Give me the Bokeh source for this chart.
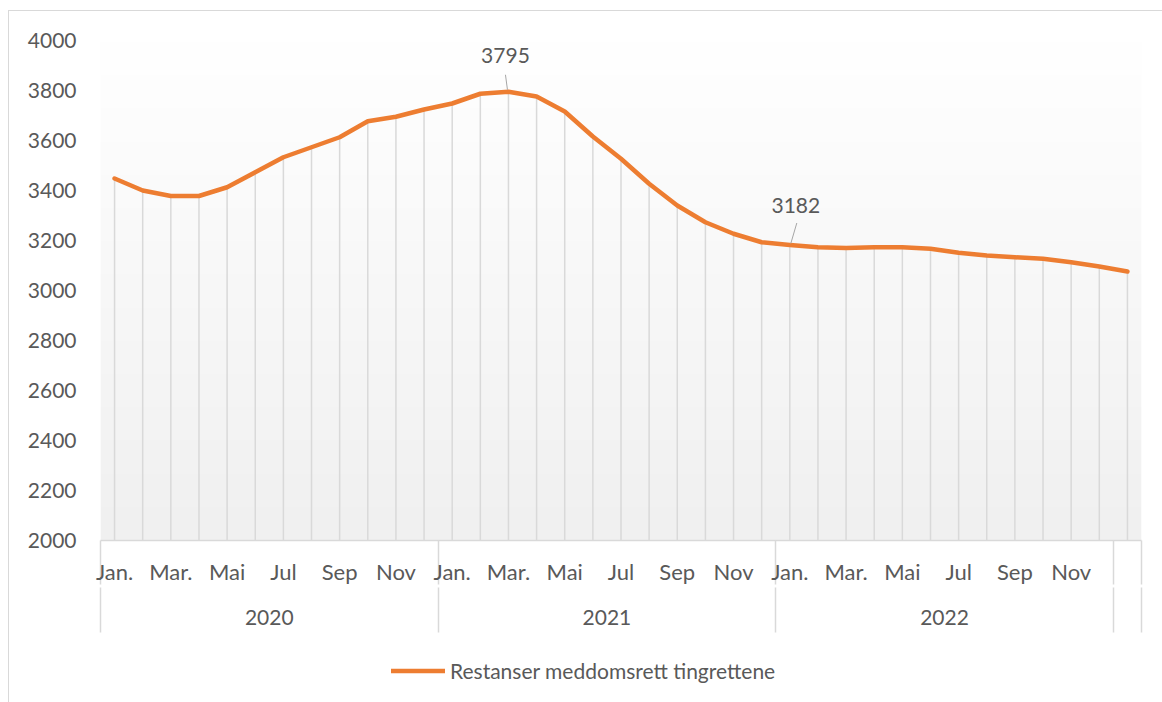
import numpy as np
from bokeh.plotting import figure
from bokeh.layouts import column
from bokeh.models import Range1d, FixedTicker, LinearAxis, Legend, LegendItem
from bokeh.core.properties import value
from bokeh.embed import file_html
from bokeh.resources import INLINE

# ---------------- data ----------------
years = ["2020", "2021", "2022"]
months = ["Jan.", "Feb.", "Mar.", "Apr.", "Mai", "Jun", "Jul", "Aug", "Sep", "Okt", "Nov", "Des"]
shown_months = ["Jan.", "Mar.", "Mai", "Jul", "Sep", "Nov"]
values_2020 = [3448, 3400, 3378, 3378, 3413, 3473, 3533, 3573, 3613, 3677, 3695, 3724]
values_2021 = [3748, 3787, 3795, 3776, 3716, 3616, 3527, 3427, 3340, 3273, 3227, 3193]
values_2022 = [3182, 3173, 3170, 3173, 3173, 3167, 3151, 3140, 3133, 3127, 3113, 3096]
values_2023 = [3076]
series_name = "Restanser meddomsrett tingrettene"
labelled_points = [("2021", "Mar."), ("2022", "Jan.")]
y_ticks = [2000, 2200, 2400, 2600, 2800, 3000, 3200, 3400, 3600, 3800, 4000]

# ---------------- derived ----------------
vals = values_2020 + values_2021 + values_2022 + values_2023
n = len(vals)
xs = list(range(n))
y_min, y_max = y_ticks[0], y_ticks[-1]
x_start, x_end = -0.5, n - 0.5

month_ticks = [yi * 12 + months.index(m) for yi in range(len(years)) for m in shown_months]
month_overrides = {t: months[t % 12] for t in month_ticks}
year_ticks = [yi * 12 + 5.5 for yi in range(len(years))]
year_overrides = {t: y for t, y in zip(year_ticks, years)}
boundaries = [yi * 12 - 0.5 for yi in range(len(years) + 1)] + [x_end]

FONT = "Lato"
TXT = "#595959"
GRID = "#d9d9d9"
ORANGE = "#ED7D31"

FW, FH = 1041, 500
p = figure(frame_width=FW, frame_height=FH, output_backend="svg", toolbar_location=None,
           x_range=Range1d(x_start, x_end), y_range=Range1d(y_min, y_max),
           min_border_left=100, min_border_right=21, min_border_top=40, min_border_bottom=105)
p.styles = {
    "background": "linear-gradient(#d9d9d9, #d9d9d9) 8px 10px / 1px 100% no-repeat, "
                  "linear-gradient(#d9d9d9, #d9d9d9) 8px 10px / 100% 1px no-repeat, white",
}
p.outline_line_color = None
p.xgrid.visible = False
p.ygrid.visible = False
p.background_fill_color = "white"
p.border_fill_color = None

# gradient plot-area background
ng = 256
img = np.empty((ng, 1), dtype=np.uint32)
view = img.view(dtype=np.uint8).reshape((ng, 1, 4))
shade = np.linspace(240, 255, ng)
view[:, 0, 0] = shade.astype(np.uint8)
view[:, 0, 1] = shade.astype(np.uint8)
view[:, 0, 2] = shade.astype(np.uint8)
view[:, 0, 3] = 255
p.image_rgba(image=[img], x=x_start, y=y_min, dw=x_end - x_start, dh=y_max - y_min)

# drop lines
p.segment(x0=xs, y0=[y_min] * n, x1=xs, y1=vals, line_color=GRID, line_width=1.5)

# series line
line_r = p.line(xs, vals, line_color=ORANGE, line_width=4.5, line_join="round", line_cap="round")

# data labels with leader lines
px_x = FW / (x_end - x_start)
px_y = FH / (y_max - y_min)
lab_idx = [years.index(y) * 12 + months.index(m) for y, m in labelled_points]
lab_vals = [vals[i] for i in lab_idx]
lab_dx = [-3, 6]
lab_dy = [-36, -40]
lead = [((-3, 17), (-1, 2)), ((7, 22), (1, 1.5))]
for i, v, dx, dy, ((ax, ay), (bx, by)) in zip(lab_idx, lab_vals, lab_dx, lab_dy, lead):
    p.text(x=[i], y=[v], text=[str(v)], x_offset=dx, y_offset=dy,
           text_font=value(FONT), text_font_size="21px", text_color=TXT,
           text_align="center", text_baseline="middle")
    p.segment(x0=[i + ax / px_x], y0=[v + ay / px_y], x1=[i + bx / px_x], y1=[v + by / px_y],
              line_color="#a6a6a6", line_width=1)

# y axis
p.yaxis.ticker = FixedTicker(ticks=y_ticks)
p.yaxis.axis_line_color = None
p.yaxis.major_tick_line_color = None
p.yaxis.minor_tick_line_color = None
p.yaxis.major_tick_out = 0
p.yaxis.minor_tick_out = 0
p.yaxis.major_label_standoff = 24
p.yaxis.major_label_text_font = FONT
p.yaxis.major_label_text_font_size = "21px"
p.yaxis.major_label_text_color = TXT

# month axis (minor ticks act as group separators)
xa = p.xaxis[0]
xa.ticker = FixedTicker(ticks=month_ticks, minor_ticks=boundaries)
xa.major_label_overrides = month_overrides
xa.axis_line_color = GRID
xa.axis_line_width = 1.5
xa.major_tick_line_color = None
xa.major_tick_out = 0
xa.major_tick_in = 0
xa.minor_tick_line_color = GRID
xa.minor_tick_line_width = 1.5
xa.minor_tick_in = 0
xa.minor_tick_out = 44
xa.major_label_standoff = -27
xa.major_label_text_font = FONT
xa.major_label_text_font_size = "22px"
xa.major_label_text_color = TXT

# year axis
ya = LinearAxis(ticker=FixedTicker(ticks=year_ticks, minor_ticks=boundaries),
                major_label_overrides=year_overrides)
ya.axis_line_color = None
ya.major_tick_line_color = None
ya.major_tick_out = 0
ya.major_tick_in = 0
ya.minor_tick_line_color = GRID
ya.minor_tick_line_width = 1.5
ya.minor_tick_in = 0
ya.minor_tick_out = 45
ya.major_label_standoff = -23
ya.major_label_text_font = FONT
ya.major_label_text_font_size = "21px"
ya.major_label_text_color = TXT
p.add_layout(ya, "below")

# legend strip below the chart (its frame is aligned with the main frame by the column)
LEG_H = 702 - (40 + FH + 105)
p2 = figure(width=1162, height=LEG_H, output_backend="svg", toolbar_location=None,
            x_axis_type=None, y_axis_type=None, x_range=Range1d(0, 1), y_range=Range1d(0, 1),
            min_border=0)
p2.styles = {
    "background": "linear-gradient(#d9d9d9, #d9d9d9) 8px 0 / 1px 100% no-repeat, white",
}
p2.outline_line_color = None
p2.grid.visible = False
p2.background_fill_color = None
p2.border_fill_color = None
# key renderer: same style as the series, data kept outside the strip's visible range
leg_r = p2.line(x=[-2, -1], y=[-2, -2], line_color=ORANGE, line_width=4.5, line_cap="round")

legend = Legend(items=[LegendItem(label=series_name, renderers=[leg_r])],
                location=(291, 19), orientation="horizontal",
                border_line_color=None, background_fill_alpha=0,
                padding=0, margin=0, glyph_width=54, glyph_height=25,
                label_standoff=5, label_height=25,
                label_text_font=FONT, label_text_font_size="21px",
                label_text_color=TXT)
p2.add_layout(legend)

layout = column(p, p2, spacing=0)
open("out.html", "w").write(file_html(layout, INLINE))
